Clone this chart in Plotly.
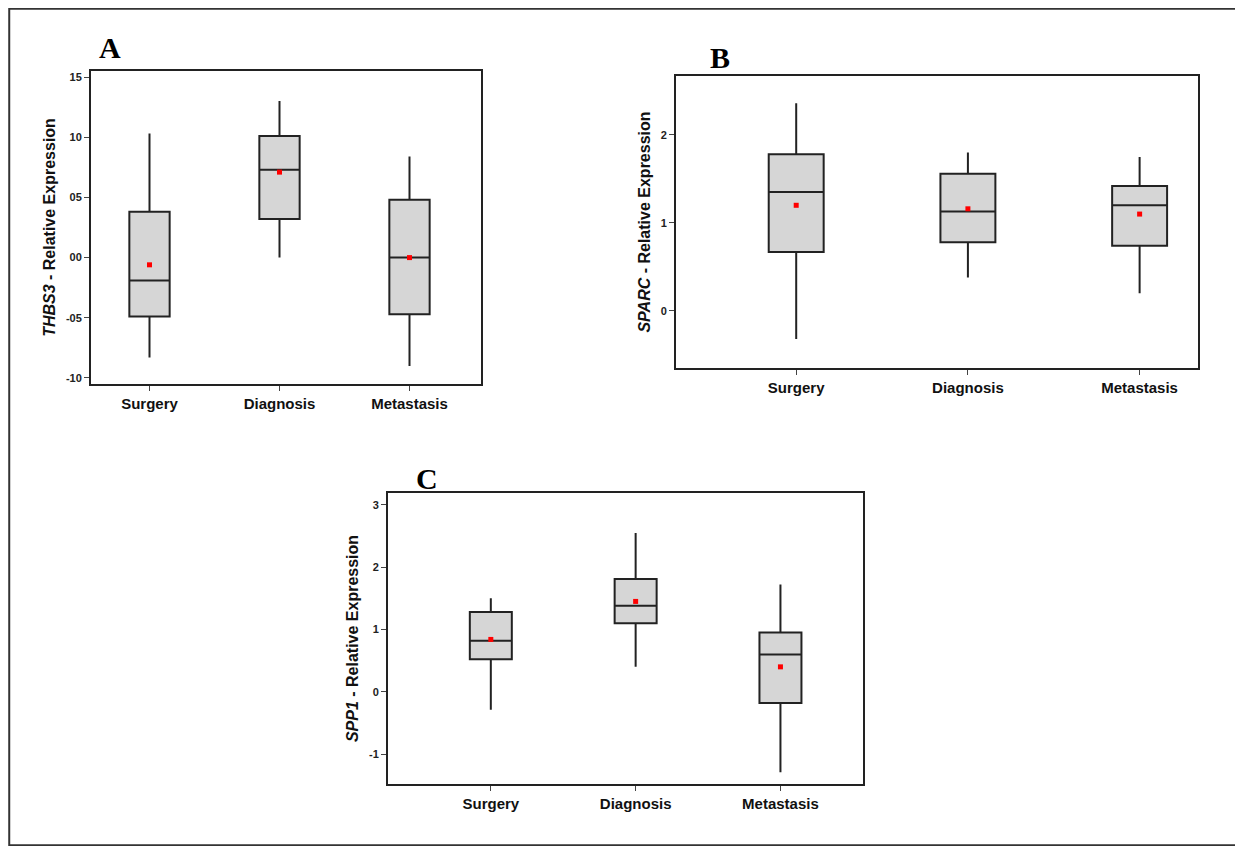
import plotly.graph_objects as go

cats = ["Surgery", "Diagnosis", "Metastasis"]
# Panel A (THBS3)
a_low = [-0.83, 0.0, -0.90]; a_q1 = [-0.49, 0.32, -0.47]; a_med = [-0.19, 0.73, 0.0]
a_q3 = [0.38, 1.01, 0.48]; a_high = [1.03, 1.30, 0.84]; a_mean = [-0.06, 0.71, 0.0]
a_ticks = [-1.0, -0.5, 0.0, 0.5, 1.0, 1.5]; a_ticktext = ["-10", "-05", "00", "05", "10", "15"]
# Panel B (SPARC)
b_low = [-0.32, 0.38, 0.20]; b_q1 = [0.67, 0.78, 0.74]; b_med = [1.35, 1.13, 1.20]
b_q3 = [1.78, 1.56, 1.42]; b_high = [2.36, 1.80, 1.75]; b_mean = [1.20, 1.16, 1.10]
b_ticks = [0, 1, 2]; b_ticktext = ["0", "1", "2"]
# Panel C (SPP1)
c_low = [-0.29, 0.40, -1.29]; c_q1 = [0.52, 1.10, -0.18]; c_med = [0.82, 1.38, 0.60]
c_q3 = [1.28, 1.81, 0.95]; c_high = [1.50, 2.55, 1.72]; c_mean = [0.84, 1.45, 0.40]
c_ticks = [-1, 0, 1, 2, 3]; c_ticktext = ["-1", "0", "1", "2", "3"]

W, H, OFF = 1232, 838, 8
def px(x): return (x - OFF) / W
def py(y): return 1 - (y - OFF) / H

fig = go.Figure()
panels = [
    ("", a_low, a_q1, a_med, a_q3, a_high, a_mean, a_ticks, a_ticktext, [px(91), px(481)], [py(384), py(71)], [-0.45, 2.55], [-1.05, 1.55], 0.31, "THBS3"),
    ("2", b_low, b_q1, b_med, b_q3, b_high, b_mean, b_ticks, b_ticktext, [px(676), px(1198)], [py(368), py(76)], [-0.7, 2.34], [-0.65, 2.67], 0.32, "SPARC"),
    ("3", c_low, c_q1, c_med, c_q3, c_high, c_mean, c_ticks, c_ticktext, [px(388), px(863)], [py(784), py(493)], [-0.71, 2.57], [-1.48, 3.19], 0.29, "SPP1"),
]
for s, lo, q1, md, q3, hi, mn, tv, tt, dx, dy, xr, yr, w, gene in panels:
    fig.add_trace(go.Box(x=cats, lowerfence=lo, q1=q1, median=md, q3=q3, upperfence=hi,
                         fillcolor="#d6d6d6", line=dict(color="#222", width=2), width=w,
                         whiskerwidth=0, xaxis="x" + s, yaxis="y" + s, showlegend=False, hoverinfo="skip"))
    fig.add_trace(go.Scatter(x=cats, y=mn, mode="markers", marker=dict(color="red", size=5, symbol="square"),
                             xaxis="x" + s, yaxis="y" + s, showlegend=False))
    fig.update_layout(**{
        "xaxis" + s: dict(domain=dx, range=xr, anchor="y" + s, showline=True, mirror=True, linecolor="#222", linewidth=2,
                          ticks="outside", ticklen=5, tickfont=dict(family="Liberation Sans", size=15, color="#111"),
                          showgrid=False, zeroline=False, tickprefix="<b>", ticksuffix="</b>"),
        "yaxis" + s: dict(domain=dy, range=yr, anchor="x" + s, showline=True, mirror=True, linecolor="#222", linewidth=2,
                          ticks="outside", ticklen=5, tickvals=tv, ticktext=["<b>" + t + "</b>" for t in tt],
                          tickfont=dict(family="Liberation Sans", size=11, color="#222"),
                          showgrid=False, zeroline=False,
                          title=dict(text="<b><i>" + gene + "</i> - Relative Expression</b>",
                                     font=dict(family="Liberation Sans", size=16, color="#111"), standoff=6)),
    })

for t, x, y in [("A", 97, 48), ("B", 708, 57), ("C", 414, 478)]:
    fig.add_annotation(text="<b>" + t + "</b>", x=px(x), y=py(y), xref="paper", yref="paper",
                       showarrow=False, xanchor="left", yanchor="middle",
                       font=dict(family="Liberation Serif", size=30, color="#000"))
fig.add_shape(type="rect", xref="paper", yref="paper", x0=0.001, x1=0.999, y0=0.001, y1=0.999,
              line=dict(color="#333", width=2))
fig.update_layout(width=W, height=H, margin=dict(l=0, r=0, t=0, b=0),
                  paper_bgcolor="white", plot_bgcolor="white")
fig.write_html("out.html")
